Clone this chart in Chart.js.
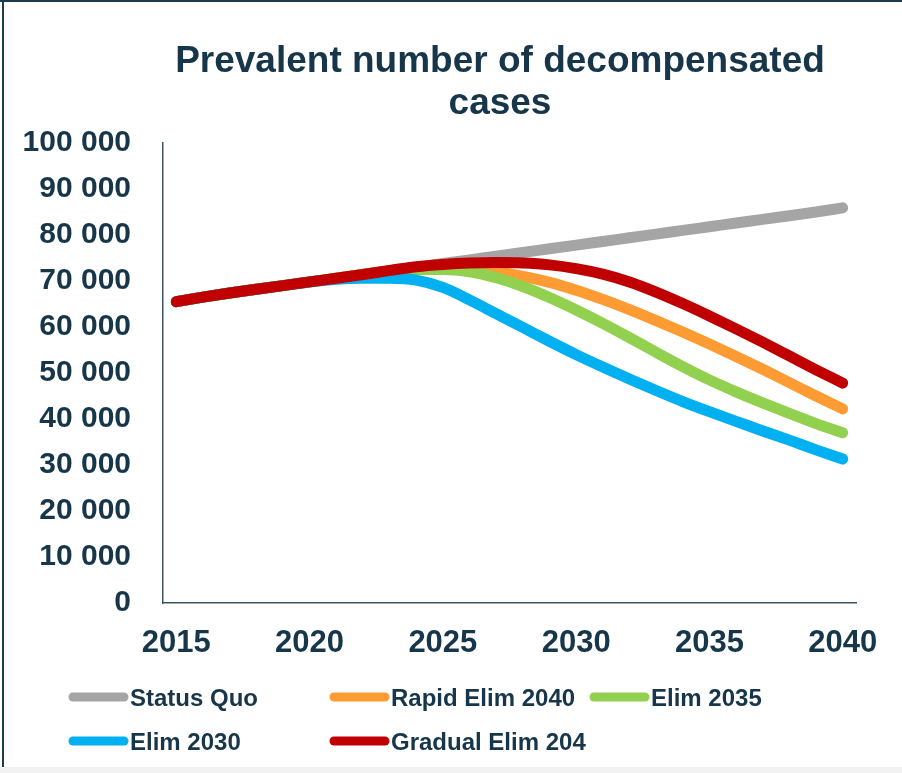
<!DOCTYPE html>
<html>
<head>
<meta charset="utf-8">
<script src="https://cdn.jsdelivr.net/npm/chart.js@4"></script>
<style>
    body { margin: 0; background: #fff; }
    canvas { display: block; }
</style>
</head>
<body>
<canvas id="chartCases" width="902" height="773"></canvas>
<script>
/* ---------------- DATA ---------------- */
const years = [2015, 2016, 2017, 2018, 2019, 2020, 2021, 2022, 2023, 2024, 2025, 2026, 2027,
               2028, 2029, 2030, 2031, 2032, 2033, 2034, 2035, 2036, 2037, 2038, 2039, 2040];

const statusQuo    = [65500, 66500, 67400, 68200, 69000, 69800, 70600, 71400, 72200, 73000, 73800, 74600, 75400,
                      76200, 77000, 77800, 78600, 79400, 80200, 81000, 81800, 82600, 83400, 84200, 85000, 85900];
const rapidElim2040 = [65500, 66500, 67400, 68200, 69000, 69800, 70600, 71400, 72200, 72900, 73100, 72700, 72000,
                      71000, 69700, 68000, 66000, 63800, 61400, 58900, 56300, 53600, 50800, 47900, 45000, 42200];
const elim2035     = [65500, 66500, 67400, 68200, 69000, 69800, 70600, 71400, 72100, 72500, 72500, 72000, 70700,
                      68800, 66400, 63700, 60800, 57700, 54500, 51400, 48500, 45900, 43500, 41200, 39000, 37000];
const elim2030     = [65500, 66500, 67400, 68200, 69000, 69800, 70400, 70600, 70600, 70200, 68600, 65900, 62900,
                      59900, 56900, 54000, 51300, 48700, 46200, 43800, 41600, 39500, 37400, 35400, 33300, 31300];
const gradualElim  = [65500, 66500, 67400, 68200, 69000, 69800, 70600, 71400, 72300, 73100, 73600, 73900, 74000,
                      73900, 73500, 72700, 71500, 69800, 67600, 65100, 62400, 59600, 56700, 53700, 50700, 47800];

const seriesLabels = ["Status Quo", "Rapid Elim 2040", "Elim 2035", "Elim 2030", "Gradual Elim 204"];
const seriesColors = ["#A5A5A5", "#FF9B33", "#92D050", "#00B0F0", "#C00000"];
const yTicks = [0, 10000, 20000, 30000, 40000, 50000, 60000, 70000, 80000, 90000, 100000];

const TEXT = "#17364A";
const FONT = "'Liberation Sans', Arial, sans-serif";

function spaced(v) {
    return String(v).replace(/\B(?=(\d{3})+(?!\d))/g, " ");
}

/* ---------------- FRAME + TITLE + LEGEND ---------------- */
const decor = {
    id: "decor",
    beforeDraw(chart) {
        const c = chart.ctx;
        c.save();
        c.fillStyle = "#fff";
        c.fillRect(0, 0, chart.width, chart.height);
        c.fillStyle = "#F2F2F2";
        c.fillRect(0, 767, chart.width, 6);
        c.fillStyle = "#1D3B4F";
        c.fillRect(0, 0, chart.width, 2);
        c.fillRect(2, 0, 2, 767);
        c.restore();
    },
    afterDraw(chart) {
        const c = chart.ctx;
        c.save();
        c.fillStyle = TEXT;
        c.textAlign = "center";
        c.textBaseline = "alphabetic";
        c.font = "bold 37px " + FONT;
        c.fillText("Prevalent number of decompensated", 500, 72);
        c.fillText("cases", 500, 114);

        const cols = [69, 330, 590];
        const rows = [697, 741];
        c.textAlign = "left";
        c.font = "bold 24px " + FONT;
        chart.data.datasets.forEach((ds, i) => {
            const x = cols[i % 3];
            const y = rows[Math.floor(i / 3)];
            c.strokeStyle = ds.borderColor;
            c.lineWidth = 9;
            c.lineCap = "round";
            c.beginPath();
            c.moveTo(x + 4, y);
            c.lineTo(x + 55, y);
            c.stroke();
            c.fillText(ds.label, x + 61, y + 9);
        });
        c.restore();
    }
};

/* ---------------- CHART ---------------- */
const seriesData = [statusQuo, rapidElim2040, elim2035, elim2030, gradualElim];
const drawOrder = [4, 3, 2, 1, 0];

new Chart(document.getElementById("chartCases"), {
    type: "line",
    data: {
        labels: years,
        datasets: seriesData.map((d, i) => ({
            label: seriesLabels[i],
            data: d,
            borderColor: seriesColors[i],
            backgroundColor: seriesColors[i],
            borderWidth: 11,
            borderCapStyle: "round",
            borderJoinStyle: "round",
            pointRadius: 0,
            cubicInterpolationMode: "monotone",
            order: drawOrder[i]
        }))
    },
    options: {
        responsive: false,
        animation: false,
        layout: { padding: { top: 143, right: 46, bottom: 110, left: 0 } },
        plugins: {
            legend: { display: false },
            title: { display: false },
            tooltip: { enabled: false }
        },
        scales: {
            x: {
                offset: true,
                grid: { display: false, drawTicks: false },
                border: { display: true, color: "#3B5566", width: 1.5 },
                ticks: {
                    autoSkip: false,
                    maxRotation: 0,
                    padding: 22,
                    color: TEXT,
                    font: { family: FONT, size: 31, weight: "bold" },
                    callback: function (v) {
                        const y = this.getLabelForValue(v);
                        return y % 5 === 0 ? y : "";
                    }
                },
                afterFit: s => { s.height = 60; }
            },
            y: {
                min: 0,
                max: 100000,
                afterBuildTicks: s => { s.ticks = yTicks.map(v => ({ value: v })); },
                grid: { display: false, drawTicks: false },
                border: { display: true, color: "#3B5566", width: 1.5 },
                ticks: {
                    padding: 32,
                    color: TEXT,
                    font: { family: FONT, size: 30, weight: "bold" },
                    callback: v => spaced(v)
                },
                afterFit: s => { s.width = 163; }
            }
        }
    },
    plugins: [decor]
});
</script>
</body>
</html>
